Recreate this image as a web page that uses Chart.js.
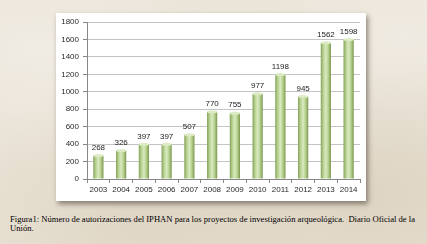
<!DOCTYPE html>
<html><head><meta charset="utf-8">
<script src="https://cdn.jsdelivr.net/npm/chart.js@4/dist/chart.umd.min.js"></script>
<style>
html,body{margin:0;padding:0;}
body{width:427px;height:244px;overflow:hidden;position:relative;
background:#e9e2d5;
background-image:
 radial-gradient(ellipse at 10% 20%, rgba(255,255,255,0.35), rgba(255,255,255,0) 45%),
 radial-gradient(ellipse at 85% 80%, rgba(200,185,160,0.35), rgba(200,185,160,0) 50%),
 radial-gradient(ellipse at 95% 15%, rgba(255,255,255,0.3), rgba(255,255,255,0) 40%),
 radial-gradient(ellipse at 30% 90%, rgba(210,198,175,0.4), rgba(210,198,175,0) 45%);}
#panel{position:absolute;left:56px;top:13px;width:310px;height:188px;background:#fff;
box-shadow:2px 3px 5px rgba(60,50,40,0.55);}
#cap{position:absolute;left:10px;top:215px;font-family:"Liberation Serif","DejaVu Serif",serif;
font-size:8.6px;line-height:8.8px;color:#000;white-space:nowrap;}
</style></head>
<body>
<div id="panel"><canvas id="c" width="310" height="188"></canvas></div>
<div id="cap">Figura1: Número de autorizaciones del IPHAN para los proyectos de investigación arqueológica.&nbsp; Diario Oficial de la<br>Unión.</div>
<script>
const years = ["2003","2004","2005","2006","2007","2008","2009","2010","2011","2012","2013","2014"];
const authorizations = [268,326,397,397,507,770,755,977,1198,945,1562,1598];
const yTicks = [0,200,400,600,800,1000,1200,1400,1600,1800];

const txt = '#2a2a2a';
const font = {family:'"Liberation Sans","Open Sans",sans-serif', size:8};

function barFill(ctx){
  const chart = ctx.chart;
  const xs = chart.scales && chart.scales.x;
  if(!chart.chartArea || !xs || ctx.dataIndex===undefined) return '#a9c77f';
  const cx = xs.getPixelForValue(ctx.dataIndex);
  const w = 10;
  const g = chart.ctx.createLinearGradient(cx - w/2, 0, cx + w/2, 0);
  g.addColorStop(0, '#87a55c');
  g.addColorStop(0.25, '#b9d394');
  g.addColorStop(0.5, '#d9eabf');
  g.addColorStop(0.75, '#b4cf8c');
  g.addColorStop(1, '#7d9a52');
  return g;
}

const valueLabels = {
  id:'valueLabels',
  afterDatasetsDraw(chart){
    const c = chart.ctx;
    const meta = chart.getDatasetMeta(0);
    c.save();
    c.font = '8px "Liberation Sans","Open Sans",sans-serif';
    c.textAlign = 'center';
    c.textBaseline = 'bottom';
    meta.data.forEach((el,i)=>{
      c.fillStyle = '#dcebc4';
      c.beginPath();
      c.ellipse(el.x, el.y, el.width/2, 1.6, 0, 0, Math.PI*2);
      c.fill();
      c.fillStyle = '#222';
      c.fillText(String(chart.data.datasets[0].data[i]), el.x, el.y - 4);
    });
    c.restore();
  }
};

new Chart(document.getElementById('c'), {
  type:'bar',
  data:{labels:years, datasets:[{data:authorizations, backgroundColor:barFill, borderWidth:0,
    barPercentage:0.45, categoryPercentage:1.0}]},
  options:{
    responsive:false, animation:false,
    layout:{padding:{top:9,right:6,left:0,bottom:0}},
    plugins:{legend:{display:false}, tooltip:{enabled:false}},
    scales:{
      x:{
        grid:{display:true, drawOnChartArea:false, drawTicks:true, tickLength:4, color:'#888', offset:true},
        border:{display:true, color:'#888'},
        ticks:{color:txt, font:font, padding:2, maxRotation:0, autoSkip:false},
        afterFit(s){ s.height = 22; }
      },
      y:{
        min:0, max:1800,
        afterBuildTicks(s){ s.ticks = yTicks.map(v=>({value:v})); },
        grid:{color:'#c4c4c4', lineWidth:1, drawTicks:true, tickLength:4, tickColor:'#888'},
        border:{display:true, color:'#888'},
        ticks:{color:txt, font:font, padding:4, callback:(v)=>String(v)},
        afterFit(s){ s.width = 31; }
      }
    }
  },
  plugins:[valueLabels]
});
</script>
</body></html>
